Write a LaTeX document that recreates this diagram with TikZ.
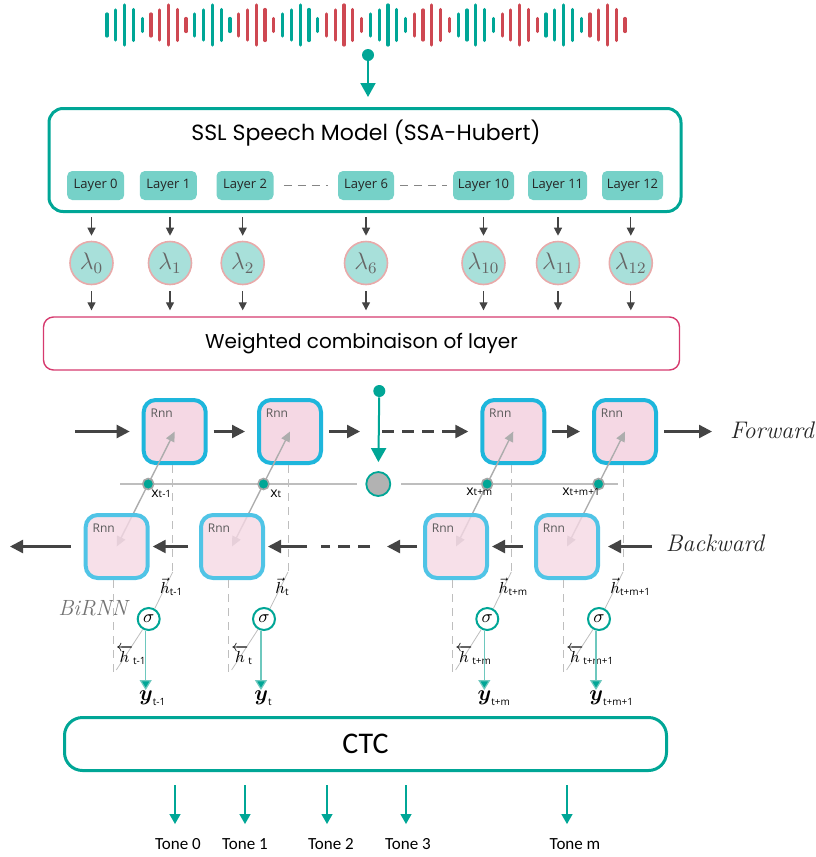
\documentclass[tikz,border=0pt]{standalone}
\usepackage{amsmath}
\usepackage{fontspec}
\usetikzlibrary{arrows.meta,positioning,calc}

\newfontfamily\titlefont{Poppins}
\newfontfamily\labfont{Open Sans}
\newfontfamily\ctcfont{Carlito}

\definecolor{sslteal}{RGB}{0,166,150}
\definecolor{wavered}{RGB}{206,72,82}
\definecolor{layerfill}{RGB}{118,209,200}
\definecolor{lamfill}{RGB}{168,224,218}
\definecolor{lamborder}{RGB}{232,170,170}
\definecolor{crimson}{RGB}{214,58,110}
\definecolor{rnnfill}{RGB}{245,216,228}
\definecolor{rnnblue}{RGB}{30,182,220}
\definecolor{rnnlight}{RGB}{80,196,230}
\definecolor{arrgray}{RGB}{68,68,68}
\definecolor{linegray}{RGB}{190,190,190}
\definecolor{softteal}{RGB}{110,200,190}

\begin{document}
\begin{tikzpicture}[x=0.5pt,y=-0.5pt,
    wave/.style={line width=1.6pt, line cap=round},
    tdot/.style={circle, fill=sslteal, minimum size=6pt, inner sep=0pt},
    tealarrow/.style={draw=sslteal, line width=1pt, -{Triangle[length=7pt,width=7.5pt]}},
    sslbox/.style={draw=sslteal, line width=1.5pt, rounded corners=7pt, minimum width=316pt, minimum height=51.5pt},
    layerbox/.style={fill=layerfill, rounded corners=2.5pt, minimum height=14.5pt, inner sep=0pt,
        font=\labfont\fontsize{6.5}{7}\selectfont, text=black!85},
    lam/.style={circle, fill=lamfill, draw=lamborder, line width=0.8pt, minimum size=21.5pt, inner sep=0pt,
        text=black!60, font=\fontsize{12}{14}\selectfont},
    smallarrow/.style={draw=arrgray, line width=0.6pt, -{Triangle[length=4pt,width=4pt]}},
    wbox/.style={draw=crimson, line width=0.7pt, rounded corners=5pt, minimum width=318pt, minimum height=26.5pt,
        font=\titlefont\fontsize{10}{12}\selectfont},
    rnnf/.style={draw=rnnblue, fill=rnnfill, line width=2pt, rounded corners=6pt, minimum width=31pt, minimum height=31.5pt},
    rnnb/.style={rnnf, draw=rnnlight, fill opacity=0.8},
    rnnlab/.style={font=\labfont\fontsize{6}{7}\selectfont, text=black!65, inner sep=0pt},
    fwdarrow/.style={draw=arrgray, line width=1.2pt, -{Triangle[length=6.5pt,width=6.5pt]}, shorten <=3pt, shorten >=6pt},
    bwdarrow/.style={draw=arrgray, line width=1.2pt, -{Triangle[length=6.5pt,width=6.5pt]}, shorten <=5.5pt, shorten >=1.5pt},
    gapline/.style={draw=arrgray, line width=1.2pt, dash pattern=on 6pt off 4pt},
    hline/.style={draw=linegray, line width=0.8pt},
    diag/.style={draw=black!32, line width=0.7pt, -{Triangle[length=5pt,width=4.5pt]}},
    xdot/.style={circle, fill=sslteal, draw=black!35, line width=0.8pt, minimum size=5.5pt, inner sep=0pt},
    xlab/.style={font=\labfont\fontsize{7}{8}\selectfont, inner sep=0pt, anchor=west},
    vdash/.style={draw=linegray, line width=0.5pt, dash pattern=on 4pt off 3pt},
    slash/.style={draw=linegray, line width=0.4pt},
    sig/.style={circle, draw=sslteal, fill=white, line width=1pt, minimum size=11pt, inner sep=0pt, font=\small},
    hlab/.style={inner sep=0pt, anchor=west, font=\fontsize{8.5}{10}\selectfont},
    ylab/.style={inner sep=0pt, anchor=west, font=\fontsize{10.5}{11}\selectfont},
    outarrow/.style={draw=softteal, line width=0.6pt, -{Triangle[length=5pt,width=6pt,fill=sslteal]}},
    dirlab/.style={font=\itshape\fontsize{12}{14}\selectfont, text=black!85},
    ctcbox/.style={draw=sslteal, line width=1.5pt, rounded corners=9pt, minimum width=301pt, minimum height=26.5pt,
        font=\ctcfont\fontsize{15}{17}\selectfont},
    tonelab/.style={font=\ctcfont\fontsize{8.5}{10}\selectfont, inner sep=0pt},
    tonearrow/.style={draw=sslteal, line width=0.6pt, -{Triangle[length=5pt,width=5.5pt]}}
  ]
  \useasboundingbox (0,0) rectangle (815,857);

  % waveform
  \foreach \i in {0,...,59}{
    \pgfmathtruncatemacro\grp{mod(floor(\i/5),2)}
    \pgfmathtruncatemacro\pp{mod(\i,5)}
    \pgfmathsetmacro\hh{{22,30,40,31,13}[\pp]}
    \ifnum\grp=0 \def\wc{sslteal}\else\def\wc{wavered}\fi
    \draw[wave, draw=\wc] (107+\i*8.78, 25-\hh/2) -- (107+\i*8.78, 25+\hh/2);
  }

  % SSL model
  \node[sslbox] (ssl) at (365,160) {};
  \node[font=\titlefont\fontsize{11}{13}\selectfont] (title) at (366,133) {SSL Speech Model (SSA-Hubert)};
  \node[tdot] (indot) at (368,55) {};
  \draw[tealarrow, shorten >=5pt] (indot) -- (indot |- ssl.north);

  \foreach \n/\x/\w in {0/95.7/28.5, 1/168.3/28.5, 2/245/28.5, 6/366/28, 10/483.5/30.5, 11/557.5/29.5, 12/632.5/30.5}
    \node[layerbox, minimum width=\w pt] (L\n) at (\x,185.5) {Layer \n};
  \draw[linegray!70!black, line width=0.5pt, dash pattern=on 4pt off 3pt] ([xshift=5pt]L2.east) -- ([xshift=-5pt]L6.west);
  \draw[linegray!70!black, line width=0.5pt, dash pattern=on 4pt off 3pt] ([xshift=3pt]L6.east) -- ([xshift=-3pt]L10.west);

  % weights
  \node[wbox] (wc) at (361.5,343.5) {Weighted combinaison of layer};
  \foreach \n/\x in {0/91.5, 1/170, 2/242.7, 6/366, 10/483.5, 11/558, 12/630.8}{
    \node[lam] (lam\n) at (\x,263) {$\lambda_{\n}$};
    \draw[smallarrow, shorten <=2pt, shorten >=2.5pt] (lam\n.north |- ssl.south) -- (lam\n.north);
    \draw[smallarrow, shorten <=3pt, shorten >=3pt] (lam\n.south) -- (lam\n.south |- wc.north);
  }

  % BiRNN
  \foreach \k/\xf/\xb in {1/174.7/116.7, 2/290/232, 3/513.3/456, 4/625/567}{
    \coordinate (cf\k) at (\xf,431.5);
    \coordinate (cb\k) at (\xb,546.5);
    \coordinate (xc\k) at ($(cf\k)!0.4565!(cb\k)$);
  }
  \node[circle, fill=black!30, draw=sslteal, line width=0.9pt, minimum size=12pt, inner sep=0pt] (gc) at (378.3,484) {};
  \coordinate (lineL) at (120,484);
  \coordinate (lineR) at (618,484);
  \draw[hline, shorten >=4pt] (lineL) -- (gc.west);
  \draw[hline, shorten <=5pt] (gc.east) -- (lineR);
  \foreach \k in {1,...,4}
    \draw[diag] (xc\k) -- (cb\k);
  \foreach \k in {1,...,4}{
    \node[rnnf] (f\k) at (cf\k) {};
    \node[rnnb] (b\k) at (cb\k) {};
    \node[rnnlab] (fl\k) at ([xshift=10pt,yshift=-7.5pt]f\k.north west) {Rnn};
    \node[rnnlab] (bl\k) at ([xshift=10pt,yshift=-7.5pt]b\k.north west) {Rnn};
    \draw[diag] (xc\k) -- (cf\k);
    \node[xdot] (xd\k) at (xc\k) {};
  }
  \node[tdot] (mdot) at (379.3,391) {};
  \draw[tealarrow, shorten >=4.5pt] (mdot) -- (gc.north);

  \node[xlab] (xl1) at (151,494) {x{\fontsize{5}{6}\selectfont t-1}};
  \node[xlab] (xl2) at (270,494) {x{\fontsize{5}{6}\selectfont t}};
  \node[xlab] (xl3) at (466,492) {x{\fontsize{5}{6}\selectfont t+m}};
  \node[xlab] (xl4) at (562,492) {x{\fontsize{5}{6}\selectfont t+m+1}};

  % forward chain
  \coordinate (fin) at (75,431.5);
  \coordinate (fa) at (360,431.5);
  \coordinate (fd1) at (382,431.5);
  \coordinate (fd2) at (452,431.5);
  \coordinate (fout) at (712,431.5);
  \draw[fwdarrow, shorten <=0pt] (fin) -- (f1);
  \draw[fwdarrow] (f1) -- (f2);
  \draw[fwdarrow, shorten >=0pt] (f2) -- (fa);
  \draw[gapline] (fd1) -- (fd2);
  \draw[fwdarrow, shorten <=0pt] (fd2) -- (f3);
  \draw[fwdarrow] (f3) -- (f4);
  \draw[fwdarrow, shorten >=0pt] (f4) -- (fout);
  \node[dirlab] (fwd) at (772,430) {Forward};

  % backward chain
  \coordinate (bin) at (652,546.5);
  \coordinate (ba) at (387,546.5);
  \coordinate (bd1) at (370,546.5);
  \coordinate (bd2) at (321,546.5);
  \coordinate (bd3) at (307,546.5);
  \coordinate (bout) at (10,546.5);
  \draw[bwdarrow, shorten <=0pt, shorten >=4pt] (bin) -- (b4);
  \draw[bwdarrow] (b4) -- (b3);
  \draw[bwdarrow, shorten <=3pt, shorten >=0pt] (b3) -- (ba);
  \draw[gapline] (bd1) -- (bd2);
  \draw[bwdarrow, shorten <=0pt] (bd3) -- (b2);
  \draw[bwdarrow] (b2) -- (b1);
  \draw[bwdarrow, shorten <=6.5pt, shorten >=0pt] (b1) -- (bout);
  \node[dirlab] (bwd) at (715,543) {Backward};
  \node[dirlab, text=black!55, font=\itshape\fontsize{11}{13}\selectfont] (birnn) at (93,608) {BiRNN};

  % outputs
  \foreach \k/\xf/\xb/\sb in {1/174.7/116.7/t-1, 2/290/232/t, 3/513.3/456/t+m, 4/625/567/t+m+1}{
    \node[sig] (s\k) at (\xf-26,619) {$\sigma$};
    \draw[vdash] ([xshift=-1pt]f\k.south) -- ++(0,107) coordinate (u\k);
    \draw[slash] (u\k) -- (s\k.60);
    \draw[vdash] ([xshift=-1.7pt]b\k.south) -- ++(0,97) coordinate (d\k);
    \draw[slash] (s\k.240) -- ($(d\k)+(3,-7)$);
    \node[hlab] (hf\k) at (\xf-15,587) {$\vec{h}_{\text{\labfont\tiny\sb}}$};
    \node[hlab] (hb\k) at (\xb-1,655) {$\overleftarrow{h}_{\text{\labfont\tiny\sb}}$};
    \node[ylab] (y\k) at (\xf-36,698) {$\boldsymbol{y}_{\text{\labfont\tiny\sb}}$};
    \draw[outarrow] ([xshift=-1.5pt]s\k.south) -- ([xshift=-1.5pt]s\k.south |- y\k.north);
  }

  % CTC
  \node[ctcbox] (ctc) at (365.5,744) {CTC};
  \foreach \n/\xa/\xl in {0/175/178, 1/245/245, 2/327/331, 3/406/408, m/567/575}{
    \node[tonelab] (tone\n) at (\xl,844) {Tone \n};
    \coordinate (ta\n) at (\xa,772);
    \draw[tonearrow, shorten <=6.5pt, shorten >=7pt] (ta\n) -- (ta\n |- tone\n.north);
  }
\end{tikzpicture}
\end{document}
